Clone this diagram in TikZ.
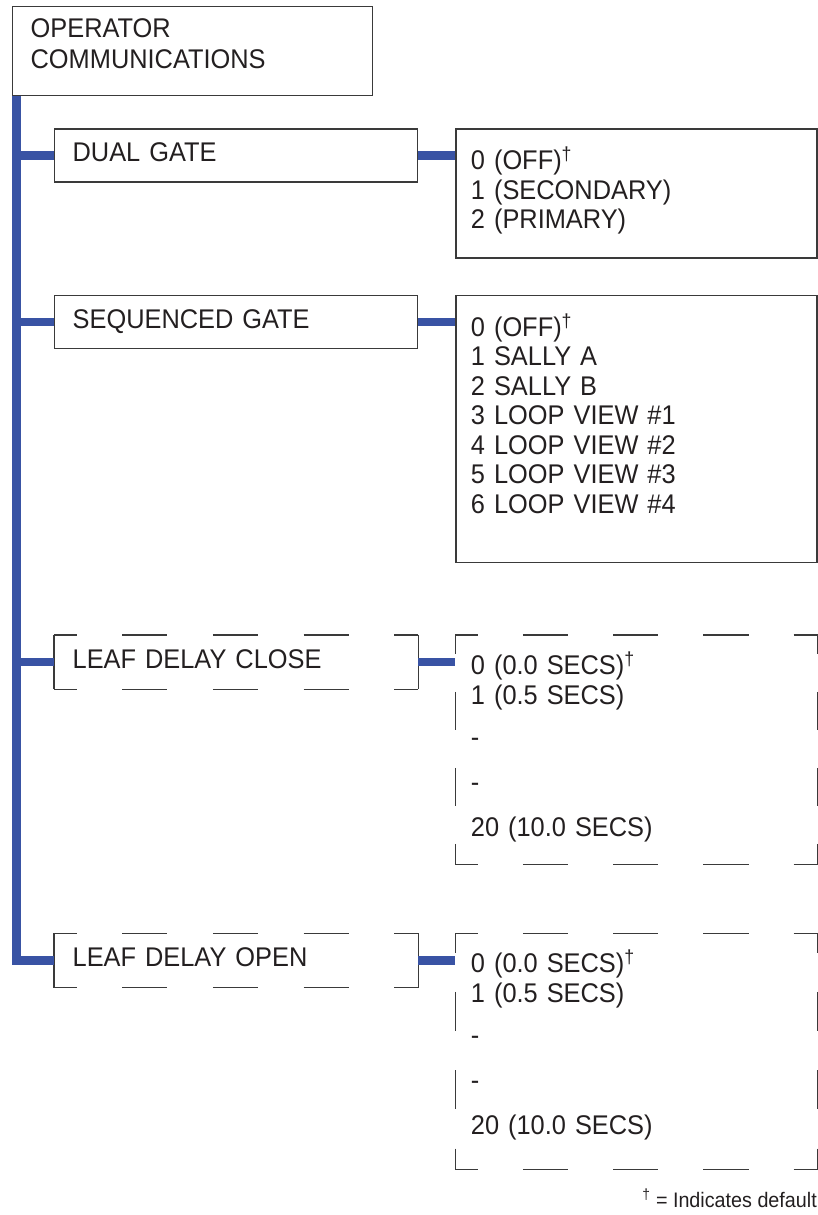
\documentclass[tikz,border=0pt]{standalone}
\usepackage{fontspec}
\setmainfont{Liberation Sans}[FakeStretch=0.94]
\usetikzlibrary{positioning}
\definecolor{cTrunk}{HTML}{3953A4}
\definecolor{cLine}{HTML}{3A3A3A}
\definecolor{cText}{HTML}{231F20}
\tikzset{
  box/.style={draw=cLine, line width=1.3pt, inner xsep=18pt, inner ysep=0pt,
    align=left, text=cText, font=\fontsize{27}{29.5}\selectfont},
  menu/.style={box, text width=327pt, text height=33pt, text depth=20pt},
  dmenu/.style={menu, draw=none},
  opts/.style={box, inner xsep=15pt, text width=331pt, text height=41pt},
  dopts/.style={opts, draw=none, text height=39pt},
  frame/.style={draw=cLine, line width=1.3pt},
  trunk/.style={draw=cTrunk, line width=8.5pt},
}

\begin{document}
\begin{tikzpicture}[x=1pt, y=-1pt]
  \useasboundingbox (0,0) rectangle (818,1215);
  \node[box, anchor=north west, text width=324pt, text height=31pt, text depth=58pt,
    font=\fontsize{27}{31}\selectfont] (opcom) at (12,6) {OPERATOR\\COMMUNICATIONS};
  % menu entries
  \node[menu, below right=32pt and 42pt of opcom.south west] (dual) {DUAL GATE};
  \node[menu, below=112pt of dual.south west, anchor=north west] (seq) {SEQUENCED GATE};
  \node[dmenu, below=286pt of seq.south west, anchor=north west] (ldc) {LEAF DELAY CLOSE};
  \node[dmenu, below=244pt of ldc.south west, anchor=north west] (ldo) {LEAF DELAY OPEN};
  % option lists
  \node[opts, text depth=88pt, right=37pt of dual.north east, anchor=north west] (dualopt)
    {0 (OFF)\textsuperscript{†}\\1 (SECONDARY)\\2 (PRIMARY)};
  \node[opts, text depth=226pt, right=37pt of seq.north east, anchor=north west] (seqopt)
    {0 (OFF)\textsuperscript{†}\\1 SALLY A\\2 SALLY B\\3 LOOP VIEW \#1\\4 LOOP VIEW \#2\\5 LOOP VIEW \#3\\6 LOOP VIEW \#4};
  \node[dopts, text depth=189pt, right=37pt of ldc.north east, anchor=north west] (ldcopt)
    {0 (0.0 SECS)\textsuperscript{†}\\1 (0.5 SECS)\\[13pt]-\\[15pt]-\\[16pt]20 (10.0 SECS)};
  \node[dopts, text depth=196pt, right=37pt of ldo.north east, anchor=north west] (ldoopt)
    {0 (0.0 SECS)\textsuperscript{†}\\1 (0.5 SECS)\\[13pt]-\\[15pt]-\\[16pt]20 (10.0 SECS)};
  % broken frames, half dash at every corner
  \foreach \n/\lenh/\lenv in {ldc/45.375/200, ldo/45.375/200, ldcopt/45.125/38, ldoopt/45.125/39.17} {
    \pgfmathsetmacro\halfh{\lenh/2}
    \pgfmathsetmacro\halfv{\lenv/2}
    \draw[frame, dash pattern=on \lenh pt off \lenh pt, dash phase=\halfh pt]
      (\n.north west) -- (\n.north east) (\n.south west) -- (\n.south east);
    \draw[frame, dash pattern=on \lenv pt off \lenv pt, dash phase=\halfv pt]
      (\n.north west) -- (\n.south west) (\n.north east) -- (\n.south east);
  }
  % blue tree
  \coordinate (trunktop) at ([xshift=4.25pt]opcom.south west);
  \draw[trunk] (trunktop) |- (ldo.west);
  \foreach \m in {dual, seq, ldc}
    \draw[trunk] (trunktop |- \m.west) -- (\m.west);
  \foreach \m in {dual, seq, ldc, ldo}
    \draw[trunk] (\m.east) -- (\m.east -| \m opt.west);
  \node[anchor=base east, text=cText, font=\fontsize{21}{25}\selectfont, inner sep=0pt] (note)
    at (817,1207) {\textsuperscript{†} = Indicates default};
\end{tikzpicture}
\end{document}
